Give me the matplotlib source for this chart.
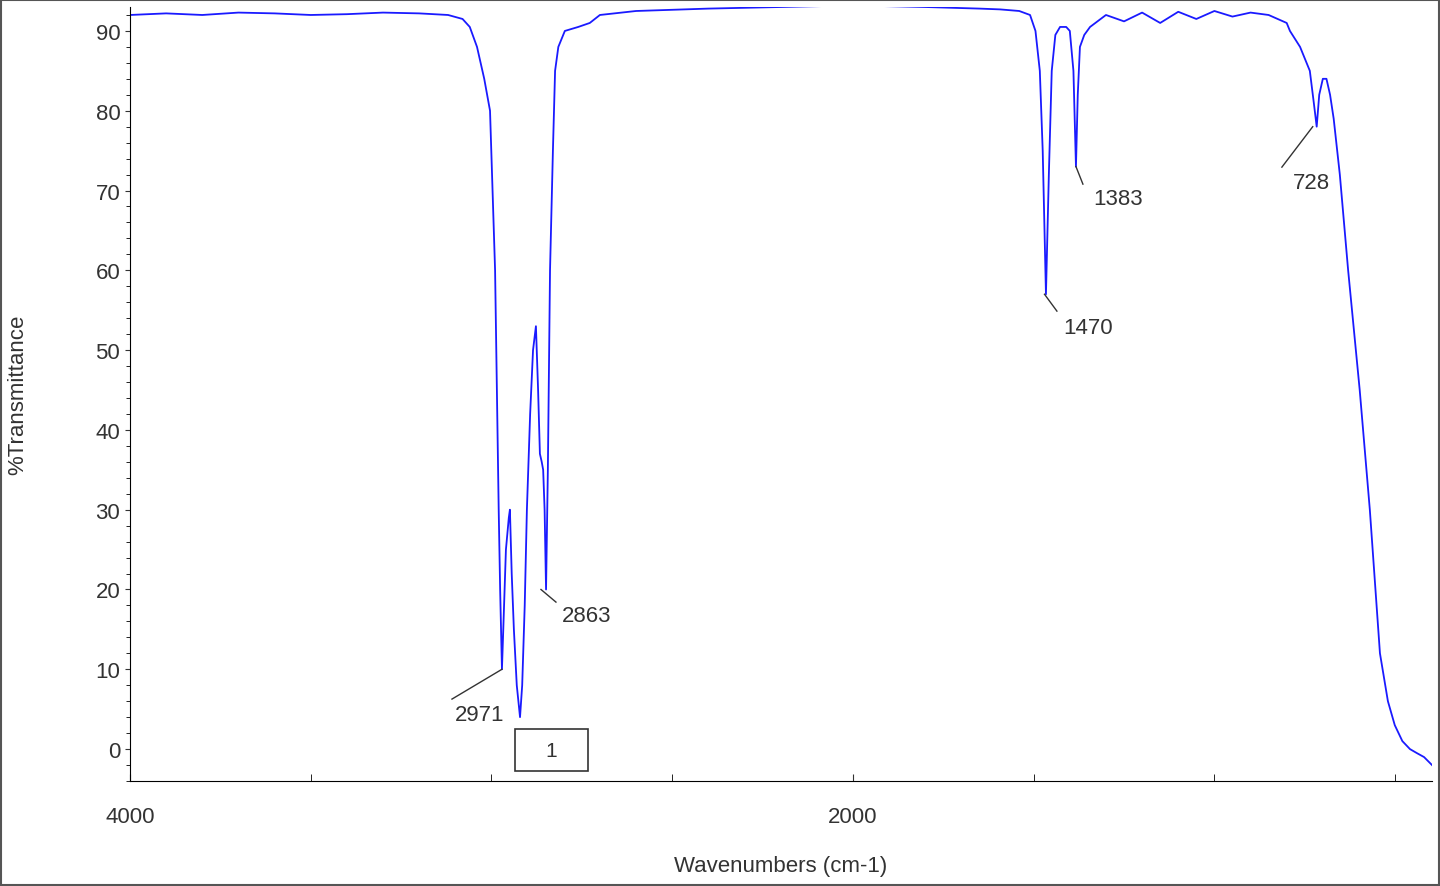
import matplotlib
matplotlib.use("Agg")
import matplotlib.pyplot as plt
from matplotlib.ticker import MultipleLocator

plt.rcParams['font.family'] = ['Liberation Sans', 'DejaVu Sans']

wn = [4000,3900,3800,3700,3600,3500,3400,3300,3200,3120,3080,3060,3040,3020,3004,2990,2980,2976,2971,2960,2952,2949,2944,2938,2930,2921,2915,2908,2902,2893,2885,2877,2871,2866,2861,2857,2853,2849,2844,2838,2830,2824,2815,2797,2760,2728,2700,2600,2400,2200,2000,1800,1650,1593,1540,1510,1495,1483,1475,1466,1458,1450,1440,1427,1410,1400,1390,1383,1378,1372,1360,1344,1300,1250,1200,1150,1100,1050,1000,950,900,850,800,791,763,736,725,717,710,700,690,680,670,653,630,598,570,542,520,501,480,459,440,420,398]
tr = [92,92.2,92,92.3,92.2,92,92.1,92.3,92.2,92,91.5,90.5,88,84,80,60,30,20,10,25,29,30,22,15,8,4,8,18,30,42,50,53,45,37,36,35,30,20,35,60,75,85,88,90,90.5,91,92,92.5,92.8,93,93.2,93,92.8,92.7,92.5,92,90,85,75,57,72,85,89.5,90.5,90.5,90,85,73,82,88,89.5,90.5,92,91.2,92.3,91,92.4,91.5,92.5,91.8,92.3,92,91,90,88,85,81,78,82,84,84,82,79,72,60,45,30,12,6,3,1,0,-0.5,-1,-2]

peak_wn = [2971, 2863, 1470, 1383, 728]
peak_tr = [10, 20, 57, 73, 78]
peak_txt = ["2971", "2863", "1470", "1383", "728"]

fig = plt.figure(figsize=(14.4,8.87), dpi=100)
ax = fig.add_axes([130/1440, 1-782/887, (1432-130)/1440, (782-8)/887])
ax.plot(wn, tr, color="#1a1aff", lw=1.3)
ax.set_xlim(4000, 398)
ax.set_ylim(-4, 93)
ax.set_xticks([4000, 2000])
ax.xaxis.set_minor_locator(MultipleLocator(500))
ax.set_yticks(range(0, 100, 10))
ax.yaxis.set_minor_locator(MultipleLocator(2))
ax.tick_params(labelsize=16, colors="#333333")
ax.tick_params(axis='x', which='both', direction='in', length=5, pad=18)
ax.tick_params(axis='y', which='minor', length=3)
for s in ["top", "right"]:
    ax.spines[s].set_visible(False)
ax.set_xlabel("Wavenumbers (cm-1)", fontsize=16, color="#333333", labelpad=20)
ax.set_ylabel("%Transmittance", fontsize=16, color="#333333", labelpad=48)

def to_data(px, py):
    return 4000 - (px - 130) / 0.3615, (750 - py) / 7.98

line_end = [(452,700),(556,603),(1057,312),(1083,185),(1282,168)]
text_pos = [(480,715),(587,616),(1088,328),(1118,199),(1312,183)]
for x0,y0,txt,le,tp in zip(peak_wn, peak_tr, peak_txt, line_end, text_pos):
    x1,y1 = to_data(*le)
    ax.plot([x0,x1],[y0,y1], color="#333333", lw=1)
    tx,ty = to_data(*tp)
    ax.text(tx,ty,txt,fontsize=16,color="#333333",ha="center",va="center")

bx0,by0 = to_data(515,772); bx1,by1 = to_data(588,730)
ax.add_patch(plt.Rectangle((bx0,by0), bx1-bx0, by1-by0, fill=False, ec="#333333", lw=1.2, clip_on=False))
ax.text((bx0+bx1)/2,(by0+by1)/2,"1",fontsize=15,ha="center",va="center",color="#333333")

fig.patches.append(plt.Rectangle((0.001,0.001),0.998,0.998,transform=fig.transFigure,fill=False,ec="#555555",lw=1.5))
fig.savefig("out.png", dpi=100)
